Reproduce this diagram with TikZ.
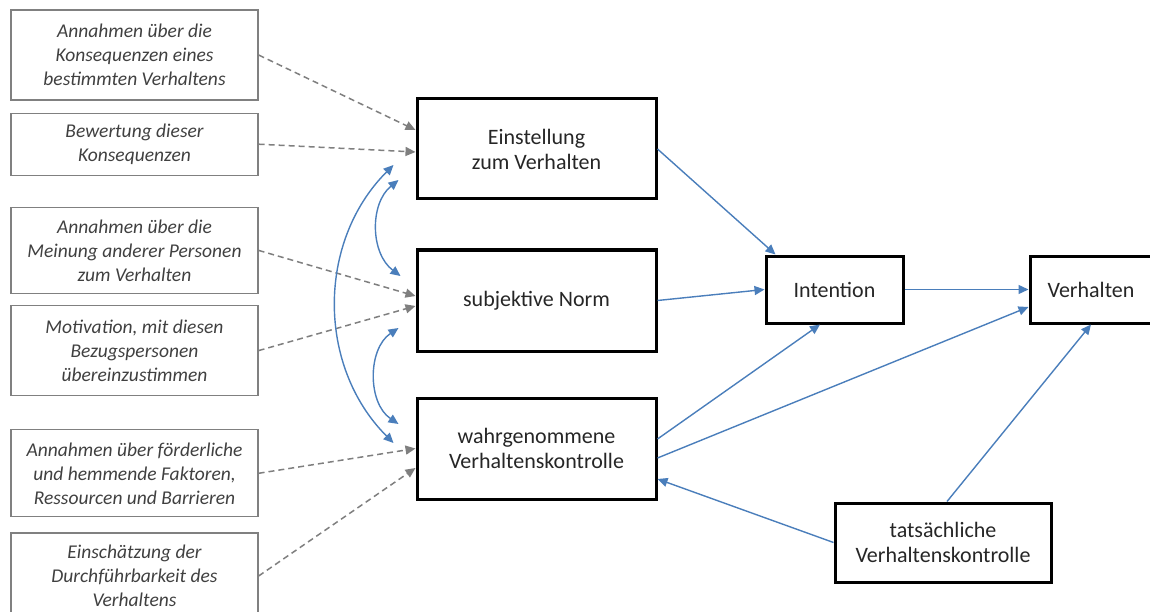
\documentclass[tikz,border=0pt]{standalone}
\usepackage{fontspec}
\setmainfont{Carlito}
\usepackage{xcolor}
\usetikzlibrary{arrows.meta, positioning}

\definecolor{linkblue}{HTML}{4A7EBB}
\definecolor{cuegray}{HTML}{7F7F7F}

\begin{document}
\begin{tikzpicture}[x=1pt, y=1pt, >={Triangle[length=10pt,width=9pt]},
    belief/.style={draw=black!50, line width=1.2pt, rectangle, minimum width=247pt, inner sep=0pt, align=center, font=\fontsize{19.5}{24}\selectfont\itshape, text=black!75},
    factor/.style={draw, rectangle, line width=3pt, inner sep=0pt, align=center, font=\fontsize{22}{25}\selectfont, text=black!85},
    cue/.style={->, draw=cuegray, line width=1.5pt, dash pattern=on 6pt off 4pt},
    link/.style={->, draw=linkblue, line width=1.4pt},
    corr/.style={<->, draw=linkblue, line width=1.4pt}]

    \useasboundingbox (0,0) rectangle (1150,-612);

    \node [belief, minimum height=90pt] (b1) at (134.5,-55) {Annahmen über die\\Konsequenzen eines\\bestimmten Verhaltens};
    \node [belief, minimum height=62pt, below=12pt of b1] (b2) {Bewertung dieser\\Konsequenzen};
    \node [belief, minimum height=86pt, below=31pt of b2] (b3) {Annahmen über die\\Meinung anderer Personen\\zum Verhalten};
    \node [belief, minimum height=90pt, below=11pt of b3] (b4) {Motivation, mit diesen\\Bezugspersonen\\übereinzustimmen};
    \node [belief, minimum height=87pt, below=33pt of b4] (b5) {Annahmen über förderliche\\und hemmende Faktoren,\\Ressourcen und Barrieren};
    \node [belief, minimum height=86pt, below=15pt of b5] (b6) {Einschätzung der\\Durchführbarkeit des\\Verhaltens};

    \node [factor, minimum width=239pt, minimum height=100pt] (einst) at (536.5,-149) {Einstellung\\zum Verhalten};
    \node [factor, minimum width=239pt, minimum height=101pt, below=48pt of einst] (norm) {subjektive Norm};
    \node [factor, minimum width=239pt, minimum height=101pt, below=44pt of norm] (wahr) {wahrgenommene\\Verhaltenskontrolle};

    \node [factor, minimum width=137pt, minimum height=67pt] (intent) at (834.5,-289.5) {Intention};
    \node [factor, minimum width=122pt, minimum height=67pt, right=124pt of intent] (verh) {Verhalten};
    \node [factor, minimum width=216pt, minimum height=79pt] (tats) at (943,-542.5) {tatsächliche\\Verhaltenskontrolle};

    \draw [cue] (b1.east) -- ([yshift=19pt]einst.west);
    \draw [cue] (b2.east) -- ([yshift=-3pt]einst.west);
    \draw [cue] (b3.east) -- ([yshift=4.5pt]norm.west);
    \draw [cue] (b4.east) -- ([yshift=-5.5pt]norm.west);
    \draw [cue] (b5.east) -- (wahr.west);
    \draw [cue] (b6.east) -- ([yshift=-19.5pt]wahr.west);

    \draw [corr] ([xshift=-22pt,yshift=-16pt]einst.west) to[bend right=45] ([xshift=-22pt,yshift=5.5pt]wahr.west);
    \draw [corr] ([xshift=-17pt,yshift=-31pt]einst.west) to[bend right=52] ([xshift=-15pt,yshift=24.5pt]norm.west);
    \draw [corr] ([xshift=-17pt,yshift=-27.5pt]norm.west) to[bend right=56] ([xshift=-17pt,yshift=24.5pt]wahr.west);

    \draw [link] (einst.east) -- ([xshift=11pt]intent.north west);
    \draw [link] (norm.east) -- (intent.west);
    \draw [link] (intent.east) -- (verh.west);
    \draw [link] ([yshift=9.5pt]wahr.east) -- ([xshift=-14.5pt]intent.south);
    \draw [link] ([yshift=-9.5pt]wahr.east) -- ([yshift=-17.5pt]verh.west);
    \draw [link] (tats.west) -- ([yshift=-30.5pt]wahr.east);
    \draw [link] ([xshift=4pt]tats.north) -- (verh.south);
\end{tikzpicture}
\end{document}
